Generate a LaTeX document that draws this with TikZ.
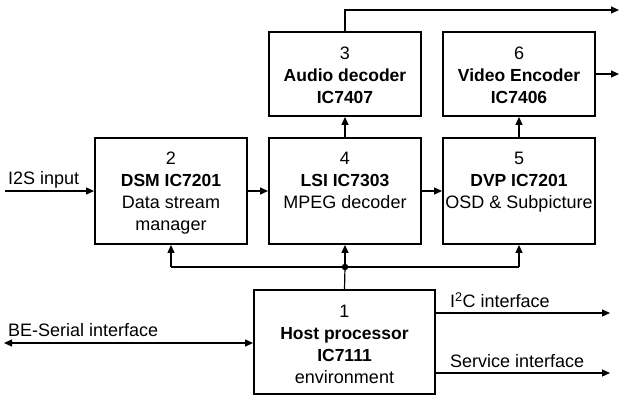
\documentclass[tikz,border=0pt]{standalone}
\usepackage{fontspec}
\setmainfont{Liberation Sans}
\usetikzlibrary{arrows.meta}
\newcommand{\bx}[1]{{\fontsize{17.5}{22}\selectfont\bfseries #1}}
\begin{document}
\begin{tikzpicture}[x=1pt,y=-1pt,
  blk/.style={draw, line width=1.9pt, rectangle, inner sep=0pt, minimum width=152pt},
  txt/.style={align=center, inner sep=0pt, font=\fontsize{18}{22}\selectfont},
  lbl/.style={inner sep=0pt, anchor=south west, font=\fontsize{18}{22}\selectfont},
  con/.style={line width=1.2pt},
  arr/.style={con, -{Triangle[length=8pt,width=7pt]}},
  dot/.style={circle, fill, inner sep=0pt, minimum size=6.5pt}]
\useasboundingbox (0,0) rectangle (621,396);
% boxes
\node[blk, minimum height=106pt] (dsm) at (171,191) {};
\node[blk, minimum height=106pt] (lsi) at (345,191) {};
\node[blk, minimum height=106pt] (dvp) at (519,191) {};
\node[blk, minimum height=84pt] (aud) at (345,74) {};
\node[blk, minimum height=84pt] (vid) at (519,74) {};
\node[blk, minimum width=181pt, minimum height=104pt] (host) at (344.5,342) {};
% texts
\node[txt] (dsmt) at (171,193) {2\\\bx{DSM IC7201}\\Data stream\\manager};
\node[txt, anchor=north] (lsit) at (dsmt.north -| lsi) {4\\\bx{LSI IC7303}\\MPEG decoder};
\node[txt, anchor=north] (dvpt) at (dsmt.north -| dvp) {5\\\bx{DVP IC7201}\\OSD \& Subpicture};
\node[txt] (audt) at (345,75) {3\\\bx{Audio decoder}\\\bx{IC7407}};
\node[txt] (vidt) at (519,75) {6\\\bx{Video Encoder}\\\bx{IC7406}};
\node[txt] (hostt) at (344.5,344) {1\\\bx{Host processor}\\\bx{IC7111}\\environment};
% coordinates
\coordinate (i2sin) at (5,191);
\coordinate (beleft) at (4,343);
\coordinate (audout) at (619,10);
\coordinate (vidout) at (619,74);
\coordinate (i2cout) at (610,313);
\coordinate (servout) at (610,373);
\node[dot] (jn) at (345,267) {};
\coordinate (busl) at (171,267);
\coordinate (busr) at (519,267);
% connectors
\draw[arr] (i2sin) -- (dsm.west);
\node[lbl] (i2st) at (8,188) {I2S input};
\draw[arr] (dsm.east) -- (lsi.west);
\draw[arr] (lsi.east) -- (dvp.west);
\draw[arr] (lsi.north) -- (aud.south);
\draw[arr] (dvp.north) -- (vid.south);
\draw[arr] (aud.north) |- (audout);
\draw[arr] (vid.east) -- (vidout);
\draw[con] (host.north) -- (jn.center);
\draw[arr] (jn.center) -- (lsi.south);
\draw[con] (busl) -- (busr);
\draw[arr] (busl) -- (dsm.south);
\draw[arr] (busr) -- (dvp.south);
\draw[con, {Triangle[length=8pt,width=7pt]}-{Triangle[length=8pt,width=7pt]}] (beleft) -- (host.west |- beleft);
\node[lbl] (bet) at (8,337) {BE-Serial interface};
\draw[arr] (host.east |- i2cout) -- (i2cout);
\node[lbl] (i2ct) at (450,308) {I\textsuperscript{2}C interface};
\draw[arr] (host.east |- servout) -- (servout);
\node[lbl] (servt) at (450,368) {Service interface};
\end{tikzpicture}
\end{document}
